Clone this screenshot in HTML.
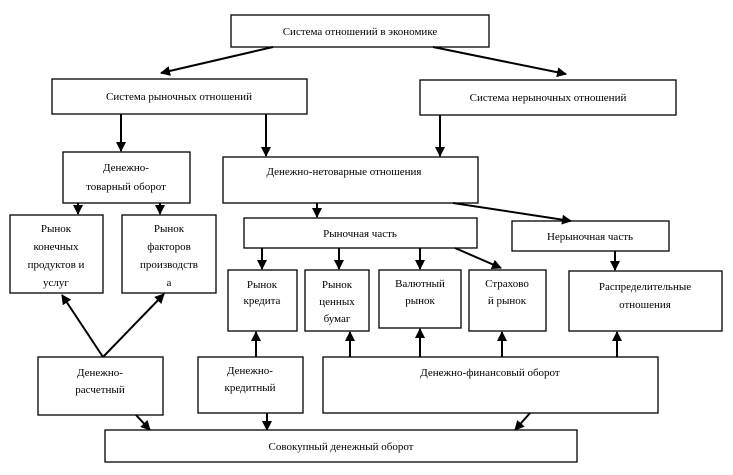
<!DOCTYPE html>
<html><head><meta charset="utf-8"><style>
html,body{margin:0;padding:0;background:#fff;}
svg{display:block;}
text{font-family:"Liberation Serif",serif;font-size:11px;fill:#000;text-anchor:middle;}
rect{fill:#fff;stroke:#000;stroke-width:1.3;}
line{stroke:#000;stroke-width:2;}
</style></head><body>
<svg width="733" height="475" viewBox="0 0 733 475">
<defs><marker id="a" markerWidth="10" markerHeight="10" refX="9" refY="5" orient="auto" markerUnits="userSpaceOnUse"><path d="M0,0 L10,5 L0,10 z" fill="#000"/></marker></defs>
<rect x="231" y="15" width="258" height="32"/><text x="360" y="35">Система отношений в экономике</text>
<rect x="52" y="79" width="255" height="35"/><text x="179" y="100">Система рыночных отношений</text>
<rect x="420" y="80" width="256" height="35"/><text x="548" y="101">Система нерыночных отношений</text>
<rect x="63" y="152" width="127" height="51"/><text x="126" y="171">Денежно-</text><text x="126" y="190">товарный оборот</text>
<rect x="223" y="157" width="255" height="46"/><text x="344" y="175">Денежно-нетоварные отношения</text>
<rect x="10" y="215" width="93" height="78"/><text x="56" y="232">Рынок</text><text x="56" y="250">конечных</text><text x="56" y="268">продуктов и</text><text x="56" y="286">услуг</text>
<rect x="122" y="215" width="94" height="78"/><text x="169" y="232">Рынок</text><text x="169" y="250">факторов</text><text x="169" y="268">производств</text><text x="169" y="286">а</text>
<rect x="244" y="218" width="233" height="30"/><text x="360" y="237">Рыночная часть</text>
<rect x="512" y="221" width="157" height="30"/><text x="590" y="240">Нерыночная часть</text>
<rect x="228" y="270" width="69" height="61"/><text x="262" y="288">Рынок</text><text x="262" y="304">кредита</text>
<rect x="305" y="270" width="64" height="61"/><text x="337" y="288">Рынок</text><text x="337" y="305">ценных</text><text x="337" y="322">бумаг</text>
<rect x="379" y="270" width="82" height="58"/><text x="420" y="287">Валютный</text><text x="420" y="304">рынок</text>
<rect x="469" y="270" width="77" height="61"/><text x="507" y="287">Страхово</text><text x="507" y="304">й рынок</text>
<rect x="569" y="271" width="153" height="60"/><text x="645" y="290">Распределительные</text><text x="645" y="308">отношения</text>
<rect x="38" y="357" width="125" height="58"/><text x="100" y="376">Денежно-</text><text x="100" y="393">расчетный</text>
<rect x="198" y="357" width="105" height="56"/><text x="250" y="374">Денежно-</text><text x="250" y="391">кредитный</text>
<rect x="323" y="357" width="335" height="56"/><text x="490" y="376">Денежно-финансовый оборот</text>
<rect x="105" y="430" width="472" height="32"/><text x="341" y="450">Совокупный денежный оборот</text>
<g marker-end="url(#a)">
<line x1="273" y1="47" x2="161" y2="73"/>
<line x1="433" y1="47" x2="566" y2="74"/>
<line x1="121" y1="114" x2="121" y2="151"/>
<line x1="266" y1="114" x2="266" y2="156"/>
<line x1="440" y1="115" x2="440" y2="156"/>
<line x1="78" y1="203" x2="78" y2="214"/>
<line x1="160" y1="203" x2="160" y2="214"/>
<line x1="317" y1="203" x2="317" y2="217"/>
<line x1="453" y1="203" x2="571" y2="221"/>
<line x1="262" y1="248" x2="262" y2="269"/>
<line x1="339" y1="248" x2="339" y2="269"/>
<line x1="420" y1="248" x2="420" y2="269"/>
<line x1="455" y1="248" x2="501" y2="268"/>
<line x1="615" y1="251" x2="615" y2="270"/>
<line x1="103" y1="357" x2="62" y2="295"/>
<line x1="103" y1="357" x2="164" y2="294"/>
<line x1="256" y1="357" x2="256" y2="332"/>
<line x1="350" y1="357" x2="350" y2="332"/>
<line x1="420" y1="357" x2="420" y2="329"/>
<line x1="502" y1="357" x2="502" y2="332"/>
<line x1="617" y1="357" x2="617" y2="332"/>
<line x1="136" y1="415" x2="150" y2="430"/>
<line x1="267" y1="413" x2="267" y2="430"/>
<line x1="530" y1="413" x2="515" y2="430"/>
</g>
</svg>
</body></html>
